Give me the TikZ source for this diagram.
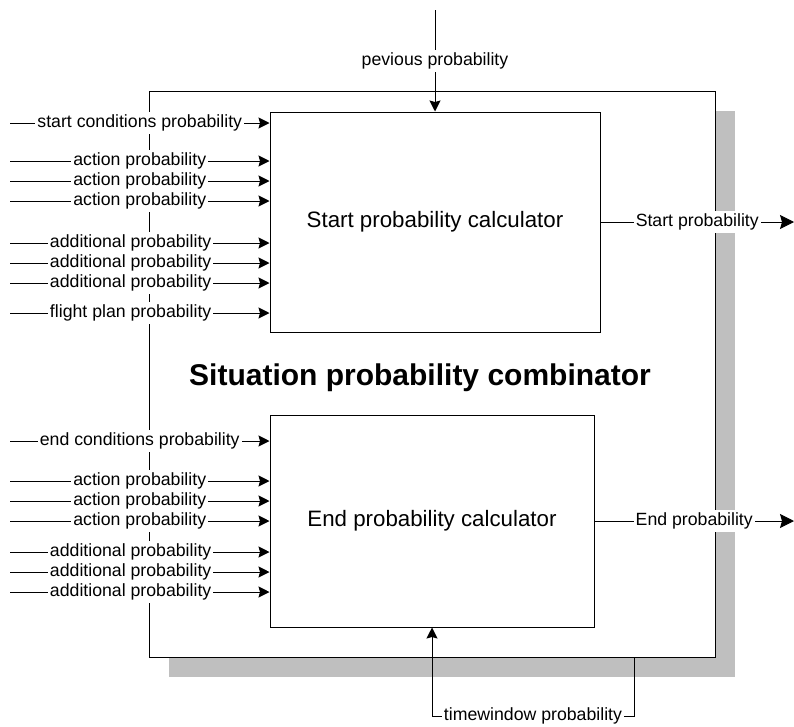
\documentclass[tikz,border=0pt]{standalone}
\usepackage{fontspec}
\setmainfont{Liberation Sans}
\usetikzlibrary{arrows.meta,shadows}
\tikzset{
calculator/.style={
	draw, fill=white, line width=1pt,
	font=\fontsize{22.3}{26}\selectfont},
problabel/.style={
	fill=white, inner xsep=2pt, inner ysep=2.5pt,
	font=\fontsize{17.7}{20}\selectfont},
flow/.style={line width=1pt, -{Stealth[length=11pt, width=11pt, inset=1.5pt]}},
outflow/.style={line width=1pt, -{Stealth[length=14pt, width=14pt, inset=2pt]}}
}

\begin{document}
\begin{tikzpicture}[x=1pt, y=-1pt]
	\useasboundingbox (0,0) rectangle (794,726);
	\node[draw, fill=white, line width=1pt, minimum width=566pt, minimum height=566pt,
		drop shadow={shadow xshift=20pt, shadow yshift=-20pt, fill=black!25, opacity=1}]
		(combinator) at (432,374) {};
	\node[font=\fontsize{30}{34}\selectfont\bfseries] (title) at (420,378) {Situation probability combinator};
	\node[calculator, minimum width=330pt, minimum height=220pt] (startcalc) at (435,222) {Start probability calculator};
	\node[calculator, minimum width=324pt, minimum height=212pt] (endcalc) at (432,521) {End probability calculator};
	\foreach \y/\txt/\p in {123/start conditions probability/.5, 161/action probability/.5,
		181/action probability/.5, 201/action probability/.5, 243/additional probability/.465,
		263/additional probability/.465, 283/additional probability/.465, 313/flight plan probability/.465}{
		\coordinate (startin\y) at (10,\y);
		\draw[flow] (startin\y) -- (startin\y -| startcalc.west) node[problabel, pos=\p] (startlabel\y) {\txt};
	}
	\foreach \y/\txt/\p in {441/end conditions probability/.5, 481/action probability/.5,
		501/action probability/.5, 521/action probability/.5, 552/additional probability/.465,
		572/additional probability/.465, 592/additional probability/.465}{
		\coordinate (endin\y) at (10,\y);
		\draw[flow] (endin\y) -- (endin\y -| endcalc.west) node[problabel, pos=\p] (endlabel\y) {\txt};
	}
	\coordinate (prevsrc) at (435,10);
	\draw[flow] (prevsrc) -- (startcalc.north) node[problabel, midway] (prevlabel) {pevious probability};
	\coordinate (startout) at (794,222);
	\draw[outflow] (startcalc.east) -- (startout) node[problabel, midway] (startoutlabel) {Start probability};
	\coordinate (endout) at (794,521);
	\draw[outflow] (endcalc.east) -- (endout) node[problabel, midway] (endoutlabel) {End probability};
	\coordinate (twsrc) at (634,657);
	\draw[flow] (twsrc) -- ++(0,59) -| (endcalc.south) node[problabel, pos=.25] (twlabel) {timewindow probability};
\end{tikzpicture}
\end{document}
